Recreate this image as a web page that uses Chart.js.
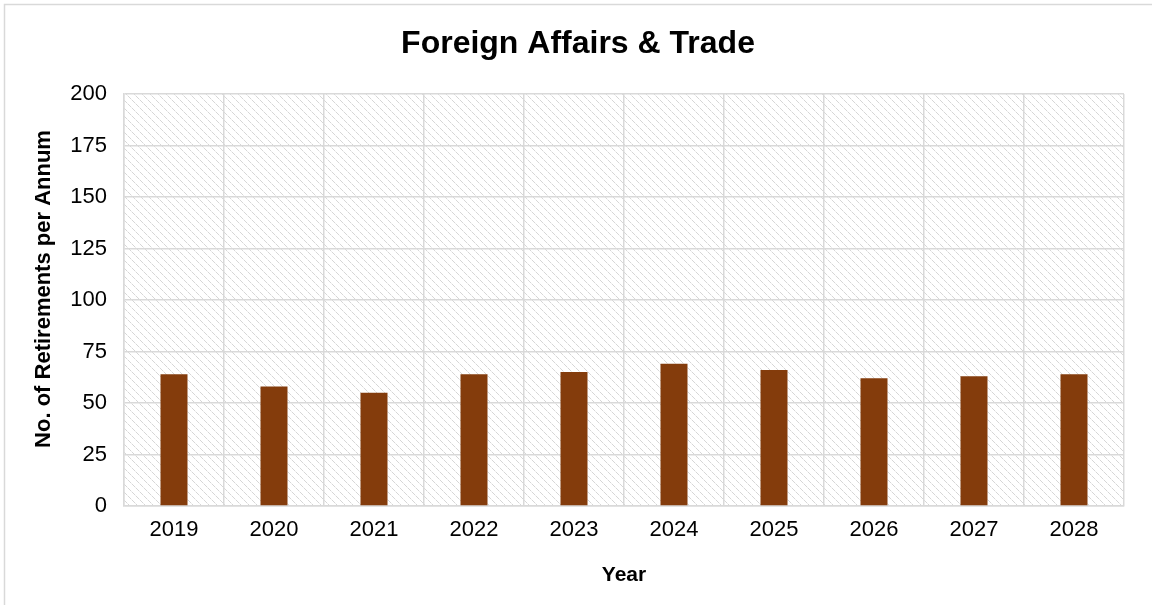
<!DOCTYPE html>
<html>
<head>
<meta charset="utf-8">
<title>Foreign Affairs &amp; Trade</title>
<script src="https://cdn.jsdelivr.net/npm/chart.js@4/dist/chart.umd.min.js"></script>
<style>
  html, body { margin: 0; padding: 0; background: #ffffff; }
  #wrap { width: 1152px; height: 605px; position: relative; }
</style>
</head>
<body>
<div id="wrap"><canvas id="chart" width="1152" height="605"></canvas></div>
<script>
// Annual retirements, Foreign Affairs & Trade
const years = ['2019', '2020', '2021', '2022', '2023', '2024', '2025', '2026', '2027', '2028'];
const retirements = [64, 58, 55, 64, 65, 69, 66, 62, 63, 64];
const yTicks = [0, 25, 50, 75, 100, 125, 150, 175, 200];
const yAxisTitle = 'No. of Retirements per Annum';

const FONT = "'Liberation Sans', Arial, sans-serif";
const GRID = '#d9d9d9';

// Light diagonal hatch tile for the plot background
function makeHatch() {
  const t = document.createElement('canvas');
  t.width = 8; t.height = 8;
  const c = t.getContext('2d');
  c.fillStyle = '#ffffff';
  c.fillRect(0, 0, 8, 8);
  for (let i = 0; i < 8; i++) {
    c.fillStyle = (i % 4 === 3) ? '#ececec' : '#d6d6d6';
    c.fillRect(i, i, 1, 1);
  }
  return t;
}

const chartDecor = {
  id: 'chartDecor',
  beforeDraw(chart) {
    const { ctx, chartArea: a } = chart;
    ctx.save();
    ctx.fillStyle = ctx.createPattern(makeHatch(), 'repeat');
    ctx.fillRect(a.left, a.top, a.right - a.left, a.bottom - a.top);
    ctx.restore();
  },
  afterDraw(chart) {
    const { ctx, chartArea: a } = chart;
    ctx.save();
    // outer frame
    ctx.strokeStyle = GRID;
    ctx.lineWidth = 1.5;
    ctx.beginPath();
    ctx.moveTo(4.5, chart.height + 5);
    ctx.lineTo(4.5, 4.5);
    ctx.lineTo(chart.width + 5, 4.5);
    ctx.stroke();
    // rotated value-axis title, sitting slightly above the plot's mid-height
    ctx.translate(44, (a.top + a.bottom) / 2 - 11);
    ctx.rotate(-Math.PI / 2);
    ctx.fillStyle = '#000000';
    ctx.font = "bold 22px " + FONT;
    ctx.textAlign = 'center';
    ctx.textBaseline = 'middle';
    ctx.fillText(yAxisTitle, 0, 0);
    ctx.restore();
  }
};

new Chart(document.getElementById('chart'), {
  type: 'bar',
  data: {
    labels: years,
    datasets: [{
      label: 'Retirements',
      data: retirements,
      backgroundColor: '#843c0c',
      borderWidth: 0,
      categoryPercentage: 1.0,
      barPercentage: 0.27
    }]
  },
  options: {
    responsive: false,
    animation: false,
    layout: { padding: { left: 32, right: 28, top: 0, bottom: 0 } },
    plugins: {
      legend: { display: false },
      tooltip: { enabled: false },
      title: {
        display: true,
        text: 'Foreign Affairs & Trade',
        color: '#000000',
        font: { family: FONT, size: 32, weight: 'bold', lineHeight: 1.2 },
        padding: { top: 25, bottom: 30.6 }
      }
    },
    scales: {
      x: {
        afterFit(scale) { scale.height = 99; },
        grid: { color: GRID, lineWidth: 1.5, offset: true, drawTicks: false, tickLength: 0 },
        border: { color: GRID, width: 1.5 },
        ticks: { color: '#000000', padding: 11, font: { family: FONT, size: 22 } },
        title: {
          display: true, text: 'Year', color: '#000000',
          font: { family: FONT, size: 21, weight: 'bold', lineHeight: 1.2 },
          padding: { top: 0, bottom: 17 }
        }
      },
      y: {
        min: 0, max: 200,
        afterBuildTicks(scale) { scale.ticks = yTicks.map(v => ({ value: v })); },
        afterFit(scale) { scale.width = 92; },
        grid: { color: GRID, lineWidth: 1.5, drawTicks: false, tickLength: 0 },
        border: { color: GRID, width: 1.5 },
        ticks: { color: '#000000', padding: 17, font: { family: FONT, size: 22 } },
        title: { display: false }
      }
    }
  },
  plugins: [chartDecor]
});
</script>
</body>
</html>
